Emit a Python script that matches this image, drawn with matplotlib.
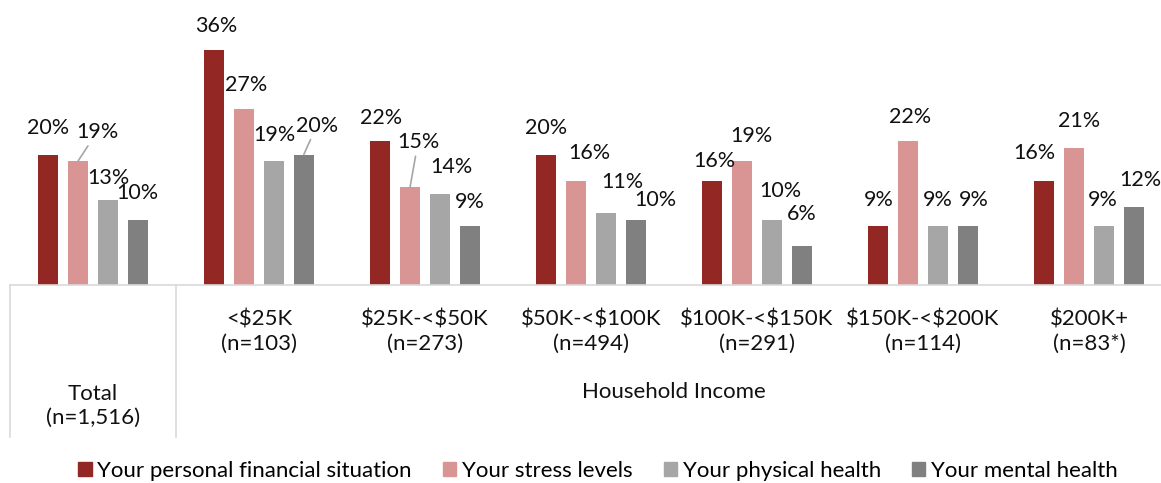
import matplotlib
matplotlib.use('Agg')
import matplotlib.pyplot as plt
import matplotlib.transforms as mtransforms
from matplotlib.patches import Patch
import numpy as np

plt.rcParams['font.family'] = ['Lato', 'DejaVu Sans']

# ===DATA===
groups = ['Total\n(n=1,516)', '<$25K\n(n=103)', '$25K-<$50K\n(n=273)', '$50K-<$100K\n(n=494)',
          '$100K-<$150K\n(n=291)', '$150K-<$200K\n(n=114)', '$200K+\n(n=83*)']
series = ['Your personal financial situation', 'Your stress levels',
          'Your physical health', 'Your mental health']
financial = [20, 36, 22, 20, 16, 9, 16]
stress = [19, 27, 15, 16, 19, 22, 21]
physical = [13, 19, 14, 11, 10, 9, 9]
mental = [10, 20, 9, 10, 6, 9, 12]
colors = ['#922723', '#D99594', '#A6A6A6', '#808080']

# label offsets from bar top (pixels dx, dy) - hand placed like the source
offsets = [
    [(0, 27), (2, 24), (1, 23), (0, 26), (2, 20), (1, 26), (-10, 28)],
    [(19, 29), (2, 24), (8, 45), (13, 28), (9, 25), (2, 24), (5, 27)],
    [(0, 22), (0, 26), (11, 27), (16, 31), (8, 29), (0, 26), (-1, 26)],
    [(0, 27), (13, 29), (0, 24), (20, 20), (0, 32), (6, 26), (7, 27)],
]
leaders = {(1, 0), (3, 1), (1, 2)}  # (series, group) with leader line

FS = 16
fig = plt.figure(figsize=(11.61, 4.83), dpi=100)
ax = fig.add_axes([10 / 1161, 198 / 483, 1162 / 1161, 261 / 483])

x = np.arange(len(groups))
w = 0.12
step = 0.18
data = [financial, stress, physical, mental]
for i, vals in enumerate(data):
    bars = ax.bar(x + (i - 1.5) * step, vals, width=w, color=colors[i], label=series[i])
    for j, b in enumerate(bars):
        dx, dy = offsets[i][j]
        arrow = None
        if (i, j) in leaders:
            arrow = dict(arrowstyle='-', color='#A6A6A6', lw=1.2, shrinkA=1, shrinkB=0)
        ax.annotate(f'{vals[j]}%', (b.get_x() + b.get_width() / 2, b.get_height()),
                    xytext=(dx, dy), textcoords='offset pixels', ha='center', va='center',
                    fontsize=15.5, color='#111111', arrowprops=arrow, annotation_clip=False)

ax.set_xlim(-0.5, len(groups) - 0.5)
ax.set_ylim(0, 40)
ax.set_xticks([])
ax.set_yticks([])
for s in ['top', 'left', 'right']:
    ax.spines[s].set_visible(False)
ax.spines['bottom'].set_color('#D9D9D9')
ax.spines['bottom'].set_linewidth(1.2)

# category labels
trans = mtransforms.blended_transform_factory(ax.transData, ax.transAxes)
for j, g in enumerate(groups):
    yy = -121 / 261 if j == 0 else -47 / 261
    ax.text(j, yy, g, transform=trans, ha='center', va='center', fontsize=FS,
            color='#111111', linespacing=1.25, parse_math=False)
ax.text((1 + len(groups) - 1) / 2, -107 / 261, 'Household Income', transform=trans,
        ha='center', va='center', fontsize=FS, color='#111111')
for xs in [-0.5, 0.5]:
    ax.plot([xs, xs], [0, -152 / 261], transform=trans, color='#D9D9D9', lw=1.2, clip_on=False)

handles = [Patch(color=c) for c in colors]
fig.legend(handles, series, loc='center', bbox_to_anchor=(598 / 1161, 1 - 471 / 483),
           ncol=4, frameon=False, fontsize=FS, handlelength=0.6, handleheight=0.6,
           handletextpad=0.25, columnspacing=1.4)

fig.savefig('out.png', dpi=100)
